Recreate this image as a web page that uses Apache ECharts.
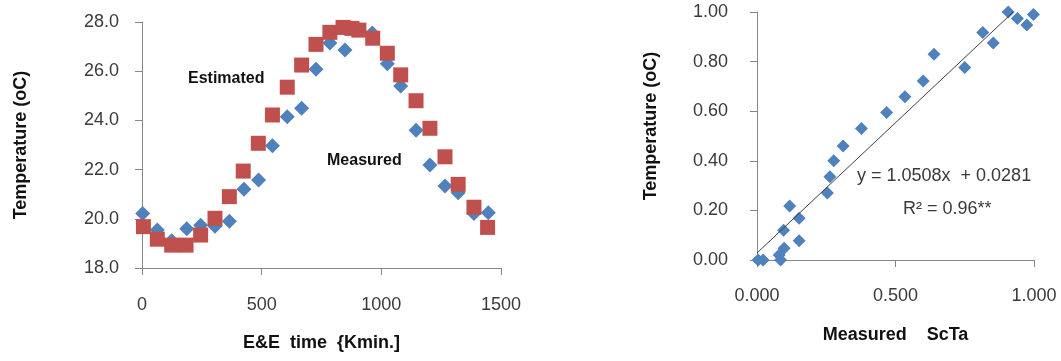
<!DOCTYPE html>
<html>
<head>
<meta charset="utf-8">
<script src="https://cdn.jsdelivr.net/npm/echarts@6/dist/echarts.min.js"></script>
<style>
  html, body { margin: 0; padding: 0; background: #fff; }
  #chart { width: 1061px; height: 361px; }
</style>
</head>
<body>
<div id="chart"></div>
<script>
// left panel: E&E time vs temperature
const measuredTime = [3, 64, 124, 187, 245, 305, 365, 426, 487, 545, 607, 667, 727, 785, 848, 906, 962, 1025, 1081, 1145, 1203, 1266, 1321, 1387, 1447];
const measuredTemp = [20.22, 19.54, 19.11, 19.6, 19.74, 19.7, 19.9, 21.2, 21.58, 22.97, 24.15, 24.49, 26.08, 27.15, 26.86, 27.7, 27.55, 26.3, 25.4, 23.6, 22.19, 21.33, 21.06, 20.22, 20.25];
const estimatedTime = [6, 64, 124, 184, 245, 305, 365, 423, 486, 545, 607, 667, 727, 785, 840, 877, 906, 964, 1025, 1081, 1145, 1203, 1266, 1321, 1387, 1444];
const estimatedTemp = [19.68, 19.17, 18.93, 18.93, 19.34, 20.02, 20.9, 21.94, 23.07, 24.22, 25.35, 26.25, 27.09, 27.58, 27.78, 27.74, 27.67, 27.34, 26.73, 25.85, 24.8, 23.68, 22.52, 21.4, 20.47, 19.65];

// right panel: measured vs estimated ScTa
const scX = [0.004, 0.022, 0.08, 0.085, 0.098, 0.096, 0.118, 0.152, 0.152, 0.254, 0.263, 0.277, 0.311, 0.377, 0.468, 0.534, 0.60, 0.639, 0.75, 0.815, 0.853, 0.907, 0.94, 0.974, 0.998];
const scY = [0, 0, 0.02, 0, 0.047, 0.12, 0.218, 0.168, 0.078, 0.27, 0.336, 0.40, 0.46, 0.53, 0.595, 0.658, 0.722, 0.83, 0.776, 0.917, 0.875, 1.0, 0.974, 0.948, 0.99];
const slope = 1.0508;
const intercept = 0.0281;

const axisColor = '#868686';
const labelColor = '#3a3a3a';
const font = 'Liberation Sans, Arial, sans-serif';

const zip = (xs, ys) => xs.map((x, i) => [x, ys[i]]);

const baseAxis = {
  type: 'value',
  axisLine: { show: true, lineStyle: { color: axisColor, width: 1 } },
  axisTick: { show: true, length: 7, lineStyle: { color: axisColor } },
  splitLine: { show: false },
  nameLocation: 'middle',
  nameTextStyle: { fontFamily: font, fontWeight: 'bold', fontSize: 18, color: '#111' }
};
const labelStyle = { fontFamily: font, fontSize: 18, color: labelColor };

const chart = echarts.init(document.getElementById('chart'));

chart.setOption({
  animation: false,
  grid: [
    { left: 142, top: 22, width: 359, height: 246 },
    { left: 757, top: 12, width: 277, height: 248 }
  ],
  xAxis: [
    {
      ...baseAxis,
      gridIndex: 0,
      min: 0, max: 1500, interval: 500,
      name: 'E&E  time  {Kmin.]',
      nameGap: 66,
      axisLabel: { ...labelStyle, margin: 28, formatter: v => String(v) }
    },
    {
      ...baseAxis,
      gridIndex: 1,
      min: 0, max: 1, interval: 0.5,
      name: 'Measured    ScTa',
      nameGap: 66,
      axisLabel: { ...labelStyle, margin: 27, formatter: v => v.toFixed(3) }
    }
  ],
  yAxis: [
    {
      ...baseAxis,
      gridIndex: 0,
      min: 18, max: 28, interval: 2,
      name: 'Temperature (oC)',
      nameGap: 112,
      axisLabel: { ...labelStyle, margin: 23, formatter: v => v.toFixed(1) }
    },
    {
      ...baseAxis,
      gridIndex: 1,
      min: 0, max: 1, interval: 0.2,
      name: 'Temperature (oC)',
      nameGap: 97,
      nameTextStyle: { ...baseAxis.nameTextStyle, padding: [0, 0, 0, 20] },
      axisLabel: { ...labelStyle, margin: 29, formatter: v => v.toFixed(2) }
    }
  ],
  series: [
    {
      name: 'Measured',
      type: 'scatter',
      xAxisIndex: 0, yAxisIndex: 0,
      symbol: 'diamond', symbolSize: 15,
      itemStyle: { color: '#4F81BD', opacity: 1 },
      clip: false,
      data: zip(measuredTime, measuredTemp)
    },
    {
      name: 'Estimated',
      type: 'scatter',
      xAxisIndex: 0, yAxisIndex: 0,
      symbol: 'rect', symbolSize: 15,
      itemStyle: { color: '#C0504D', opacity: 1 },
      clip: false,
      data: zip(estimatedTime, estimatedTemp)
    },
    {
      name: 'ScTa',
      type: 'scatter',
      xAxisIndex: 1, yAxisIndex: 1,
      symbol: 'diamond', symbolSize: 13,
      itemStyle: { color: '#4F81BD', opacity: 1 },
      clip: false,
      data: zip(scX, scY)
    },
    {
      name: 'Trend',
      type: 'line',
      xAxisIndex: 1, yAxisIndex: 1,
      symbol: 'none',
      lineStyle: { color: '#404040', width: 1 },
      data: [[0, intercept], [(1 - intercept) / slope, 1]],
      z: 3
    }
  ],
  graphic: [
    { type: 'text', left: 188, top: 71, style: { text: 'Estimated', font: 'bold 16px ' + font, fill: '#111' } },
    { type: 'text', left: 327, top: 153, style: { text: 'Measured', font: 'bold 16px ' + font, fill: '#111' } },
    { type: 'text', left: 857, top: 167, style: { text: 'y = 1.0508x  + 0.0281', font: '18px ' + font, fill: labelColor } },
    { type: 'text', left: 903, top: 200, style: { text: 'R² = 0.96**', font: '18px ' + font, fill: labelColor } }
  ]
});
</script>
</body>
</html>
